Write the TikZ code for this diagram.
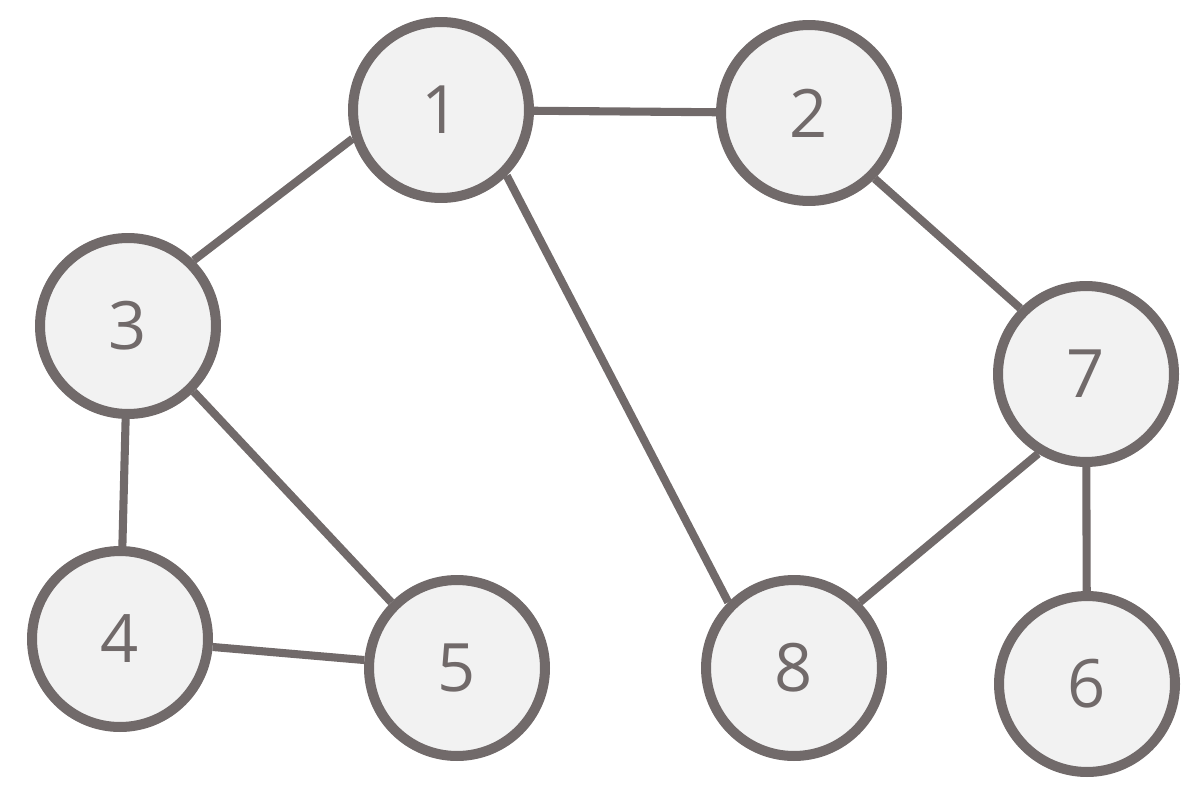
\documentclass[tikz,border=0pt]{standalone}
\usepackage{fontspec}
\setmainfont{Open Sans}
\usepackage{tikz}
\usetikzlibrary{positioning}
\definecolor{edgegray}{RGB}{113,106,106}
\definecolor{nodefill}{RGB}{242,242,242}
\tikzset{
  vertex/.style={circle,draw=edgegray,fill=nodefill,line width=5.7pt,
    minimum size=3.52cm,inner sep=0pt,text=edgegray,
    font=\fontsize{38}{40}\selectfont},
  link/.style={draw=edgegray,line width=4.6pt},
}

\begin{document}
\begin{tikzpicture}[x=0.02cm,y=-0.02cm]
  \useasboundingbox (0,0) rectangle (1202,784);
  \node[vertex] (n1) at (441,110) {1};
  \node[vertex] (n2) at (809,113) {2};
  \node[vertex] (n3) at (128,326) {3};
  \node[vertex] (n4) at (120,639) {4};
  \node[vertex] (n5) at (457,668) {5};
  \node[vertex] (n8) at (794,668) {8};
  \node[vertex] (n7) at (1086,374) {7};
  \node[vertex] (n6) at (1087,684) {6};
  % edges leave from fixed points on the rims
  \foreach \a/\b in {1/2,1.198/3.45,1.-45/8.135,2.-45/7.135,3/4,
                     3.-45/5.135,4/5,7.239/8.45,7/6}
    \draw[link] (n\a) -- (n\b);
\end{tikzpicture}
\end{document}
